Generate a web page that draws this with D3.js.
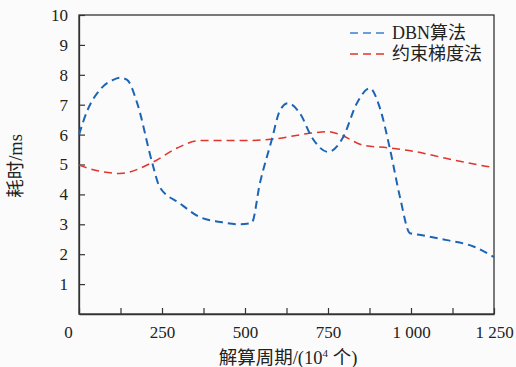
<!DOCTYPE html>
<html><head><meta charset="utf-8">
<script src="https://cdn.jsdelivr.net/npm/d3@7/dist/d3.min.js"></script>
<style>html,body{margin:0;padding:0;background:#fbfbfb;}svg{display:block;}</style>
</head><body><svg id="c" width="516" height="367"></svg>
<script>
const xTicks = [0,125,250,375,500,625,750,875,1000,1125,1250];
const xTickLabels = {0:"0",250:"250",500:"500",750:"750",1000:"1 000",1250:"1 250"};
const yTicks = [1,2,3,4,5,6,7,8,9,10];
const seriesNames = ["DBN算法","约束梯度法"];
const dbnX = [0,25,63,103,125,145,175,220,243,304,364,425,480,520,545,580,605,629,666,702,750,795,837,876,906,937,967,997,1030,1108,1190,1250];
const dbnY = [6.0,6.8,7.5,7.83,7.9,7.83,7.06,5.08,4.25,3.7,3.24,3.08,3.0,3.04,4.38,5.8,6.8,7.05,6.7,5.9,5.42,5.9,7.05,7.55,6.9,5.5,3.9,2.7,2.64,2.47,2.25,1.9];
const cgX = [0,60,123,223,295,364,506,584,700,750,786,855,937,1018,1108,1238,1250];
const cgY = [4.98,4.78,4.7,5.08,5.55,5.8,5.8,5.85,6.05,6.1,6.0,5.65,5.55,5.42,5.2,4.92,4.9];

const svg = d3.select("#c");
const L=79, R=494, T=15, B=314;
const x = d3.scaleLinear().domain([0,1250]).range([L,R]);
const y = d3.scaleLinear().domain([0,10]).range([B,T]);
const serif = "'Liberation Serif','Times New Roman',serif";
const cjk = "'Noto Sans CJK SC',sans-serif";

svg.append("rect").attr("width",516).attr("height",367).attr("fill","#fbfbfb");

svg.append("rect").attr("x",L).attr("y",T).attr("width",R-L).attr("height",B-T)
  .attr("fill","none").attr("stroke","#333").attr("stroke-width",1.3);

const ya = svg.append("g").attr("transform",`translate(${L},0)`)
  .call(d3.axisLeft(y).tickValues(yTicks).tickSizeInner(-6).tickSizeOuter(0).tickPadding(11));
ya.select(".domain").attr("stroke","#333").attr("stroke-width",1.3);
ya.selectAll(".tick line").attr("stroke","#333").attr("stroke-width",1.2);
ya.selectAll("text").attr("font-family",serif).attr("font-size",17).attr("fill","#222");

const xa = svg.append("g").attr("transform",`translate(0,${B})`)
  .call(d3.axisBottom(x).tickValues(xTicks).tickSizeInner(-6).tickSizeOuter(0).tickPadding(12)
    .tickFormat(d => xTickLabels[d] !== undefined ? xTickLabels[d] : ""));
xa.select(".domain").attr("stroke","#333").attr("stroke-width",1.3);
xa.selectAll(".tick line").attr("stroke","#333").attr("stroke-width",1.2);
xa.selectAll("text").attr("font-family",serif).attr("font-size",17).attr("fill","#222");
xa.selectAll(".tick").filter(d=>d===0).select("text").attr("dx",-11);

const line = d3.line().x(d=>x(d[0])).y(d=>y(d[1])).curve(d3.curveMonotoneX);
const dbn = dbnX.map((v,i)=>[v,dbnY[i]]);
const cg = cgX.map((v,i)=>[v,cgY[i]]);
svg.append("path").datum(cg).attr("d",line).attr("fill","none")
  .attr("stroke","#e0342c").attr("stroke-width",1.5).attr("stroke-dasharray","8,5");
svg.append("path").datum(dbn).attr("d",line).attr("fill","none")
  .attr("stroke","#1c64b6").attr("stroke-width",2).attr("stroke-dasharray","8,5");

const lg = [{n:seriesNames[0],c:"#3d80d0",w:1.5,y:33},{n:seriesNames[1],c:"#e0342c",w:1.5,y:54}];
lg.forEach(d=>{
  svg.append("line").attr("x1",350).attr("x2",385).attr("y1",d.y).attr("y2",d.y)
    .attr("stroke",d.c).attr("stroke-width",d.w).attr("stroke-dasharray","8,5");
  svg.append("text").attr("x",392).attr("y",d.y+6).attr("font-family",serif+","+cjk)
    .attr("font-size",18).attr("fill","#222").text(d.n);
});

const xt = svg.append("text").attr("x",288).attr("y",364).attr("text-anchor","middle")
  .attr("font-family",serif+","+cjk).attr("font-size",18.5).attr("fill","#222");
xt.append("tspan").text("解算周期/(10");
xt.append("tspan").attr("font-size",11).attr("dy",-7).text("4");
xt.append("tspan").attr("dy",7).text(" 个)");

svg.append("text").attr("transform","translate(22,166) rotate(-90)").attr("text-anchor","middle")
  .attr("font-family",serif+","+cjk).attr("font-size",18.5).attr("fill","#222").text("耗时/ms");
</script></body></html>
